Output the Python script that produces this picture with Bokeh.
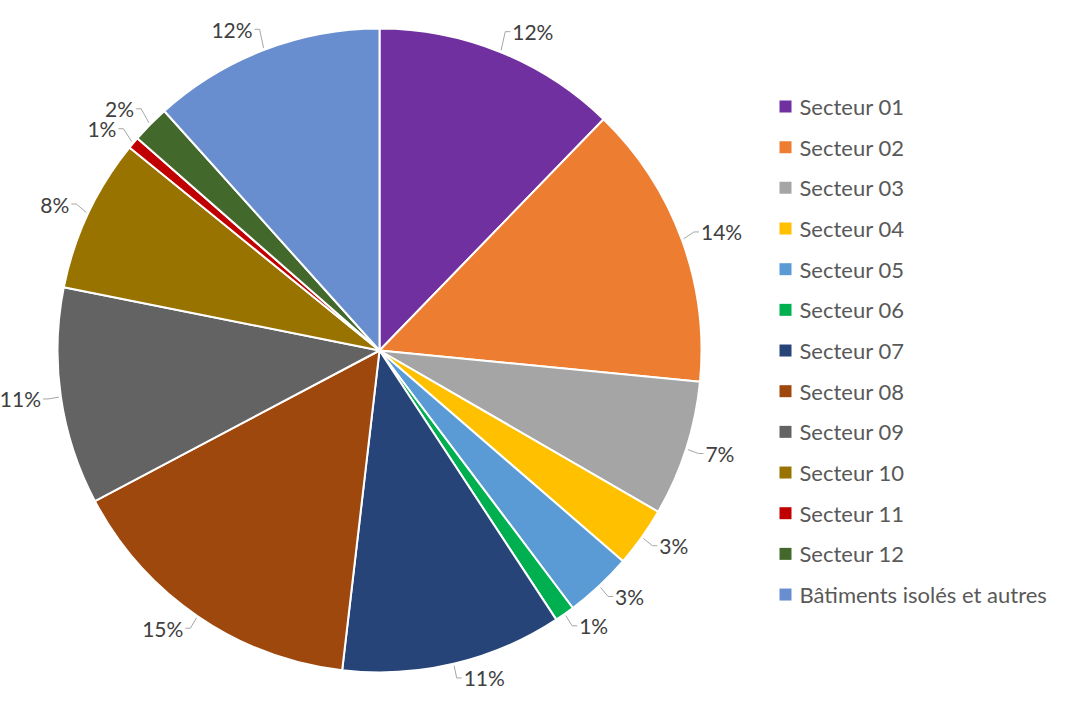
import math
from bokeh.plotting import figure
from bokeh.models import Range1d, ColumnDataSource
from bokeh.core.properties import value
from bokeh.embed import file_html
from bokeh.resources import INLINE

categories = ["Secteur 01", "Secteur 02", "Secteur 03", "Secteur 04", "Secteur 05",
              "Secteur 06", "Secteur 07", "Secteur 08", "Secteur 09", "Secteur 10",
              "Secteur 11", "Secteur 12", "Bâtiments isolés et autres"]
shares = [12.25, 14.3, 6.8, 3.0, 3.4, 1.0, 11.1, 15.4, 10.9, 7.7, 0.6, 1.9, 11.65]
colors = ["#7030A0", "#ED7D31", "#A5A5A5", "#FFC000", "#5B9BD5", "#00B050", "#264478",
          "#9E480E", "#636363", "#997300", "#C00000", "#43682B", "#698ED0"]

W, H = 1056, 690
p = figure(width=W, height=H, output_backend="svg", toolbar_location=None,
           x_range=Range1d(0, W), y_range=Range1d(706 - H, 706),
           min_border=0)
p.axis.visible = False
p.grid.visible = False
p.outline_line_color = None

cx, cy, R = 379, 356, 322
total = sum(shares)
starts, ends, mids = [], [], []
cum = 0.0
for v in shares:
    a0 = cum / total
    cum += v
    a1 = cum / total
    starts.append(math.pi / 2 - a0 * 2 * math.pi)
    ends.append(math.pi / 2 - a1 * 2 * math.pi)
    mids.append(math.pi / 2 - (a0 + a1) / 2 * 2 * math.pi)

src = ColumnDataSource(dict(x=[cx] * len(shares), y=[cy] * len(shares),
                            start=starts, end=ends, color=colors))
p.wedge(x="x", y="y", radius=R, radius_units="data", start_angle="start",
        end_angle="end", direction="clock", fill_color="color",
        line_color="white", line_width=2, source=src)

# data labels with leader lines
lx, ly, tx, ty, al, txt = [], [], [], [], [], []
for v, m in zip(shares, mids):
    dx, dy = math.cos(m), math.sin(m)
    ex, ey = cx + (R + 2) * dx, cy + (R + 2) * dy
    lift = 9 * dy if dy > 0 else 1.5 * dy
    ox, oy = cx + (R + 13) * dx, cy + (R + 13) * dy + lift
    side = 1 if dx >= 0 else -1
    hx = ox + side * 5
    lx.append([ex, ox, hx]); ly.append([ey, oy, oy])
    tx.append(hx + side * 2); ty.append(oy)
    al.append("left" if side > 0 else "right")
    txt.append(f"{v:.0f}%")
p.multi_line(xs=lx, ys=ly, line_color="#A6A6A6", line_width=1)
p.text(x=tx, y=ty, text=txt, text_align=al, text_baseline="middle",
       text_font=value("Lato"), text_font_size="21px", text_color="#404040")

# legend
lg_y = [706 - (106 + i * 40.67) for i in range(len(categories))]
p.scatter(x=[785] * len(categories), y=lg_y, marker="square", size=12,
          fill_color=colors, line_color=None)
p.text(x=[799] * len(categories), y=lg_y, text=categories, text_align="left",
       text_baseline="middle", text_font=value("Lato"), text_font_size="22px",
       text_color="#595959")

open("out.html", "w").write(file_html(p, INLINE))
